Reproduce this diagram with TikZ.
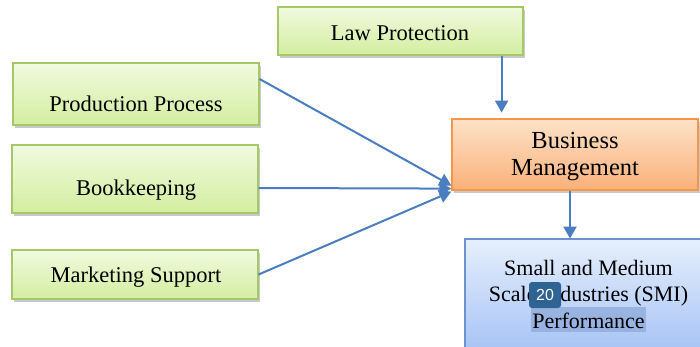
\documentclass[tikz,border=0pt]{standalone}
\usepackage{fontspec}
\setmainfont{Liberation Serif}
\newfontfamily\serifx{Liberation Serif}
\newfontfamily\badgefont{Liberation Sans}
\usetikzlibrary{arrows.meta,shadows}
\definecolor{gborder}{HTML}{A5C86A}
\definecolor{gtop}{HTML}{F1FADF}
\definecolor{gbot}{HTML}{D3EEA0}
\definecolor{oborder}{HTML}{F79646}
\definecolor{otop}{HTML}{FDE2C8}
\definecolor{obot}{HTML}{FAB079}
\definecolor{bborder}{HTML}{6A93CF}
\definecolor{btop}{HTML}{E6EFFD}
\definecolor{bbot}{HTML}{A8C4F5}
\definecolor{arrblue}{HTML}{4A7EC0}
\definecolor{badgeblue}{HTML}{2F6393}
\definecolor{hlblue}{HTML}{8EAADA}
\tikzset{
  boxbase/.style={rectangle, inner sep=0pt, line width=1.2pt,
    drop shadow={shadow xshift=1.5pt, shadow yshift=-3pt, fill=black!35, opacity=0.6}},
  gbox/.style={boxbase, draw=gborder, top color=gtop, bottom color=gbot},
  obox/.style={boxbase, draw=oborder, top color=otop, bottom color=obot},
  bbox/.style={rectangle, inner sep=0pt, line width=1.2pt, draw=bborder, top color=btop, bottom color=bbot},
  gtext/.style={inner sep=0pt, font=\serifx\fontsize{22.5}{26}\selectfont},
  otext/.style={inner sep=0pt, align=center, font=\serifx\fontsize{24.5}{27}\selectfont},
  btext/.style={inner sep=0pt, align=center, font=\serifx\fontsize{22}{26.5}\selectfont},
  arr/.style={draw=arrblue, line width=2pt, -{Triangle[length=12pt,width=13pt]}}
}
\begin{document}
\begin{tikzpicture}[x=1pt,y=-1pt]
\clip (0,0) rectangle (700,347);
\fill[white] (0,0) rectangle (700,347);
% boxes
\node[gbox, minimum width=245pt, minimum height=48pt] (law) at (400.5,31) {};
\node[gbox, minimum width=246pt, minimum height=62pt] (pp) at (136,94) {};
\node[gbox, minimum width=246pt, minimum height=68pt] (bk) at (135,179) {};
\node[gbox, minimum width=246pt, minimum height=49pt] (ms) at (135,274.5) {};
\node[obox, minimum width=246pt, minimum height=71pt] (bm) at (575,154.5) {};
\node[bbox, minimum width=236pt, minimum height=110pt] (smi) at (583,294) {};
% texts
\node[gtext] (lawt) at (400,33) {Law Protection};
\node[gtext] (ppt) at (136,104) {Production Process};
\node[gtext] (bkt) at (136,190) {Bookkeeping};
\node[gtext] (mst) at (136,277) {Marketing Support};
\node[otext] (bmt) at (575,157) {Business\\Management};
\fill[hlblue, opacity=0.75] (531,307) rectangle (646,332);
\node[btext] (smit) at (588.5,294) {Small and Medium\\Scale Industries (SMI)\\Performance};
% connectors
\draw[arr] ([xshift=-22pt]law.south east) -- ++(0,57);
\draw[arr] ([yshift=15pt]pp.east) -- ([yshift=5pt]bm.south west);
\draw[arr] ([yshift=-9pt]bk.east) -- ([yshift=2pt]bm.south west);
\draw[arr] (ms.east) -- ([yshift=-1pt]bm.south west);
\draw[arr] ([xshift=-5pt]bm.south) -- ++(0,48);
% overlay badge
\node[fill=badgeblue, rounded corners=3pt, minimum width=32pt, minimum height=26pt, inner sep=0pt,
      text=white, font=\badgefont\fontsize{16}{16}\selectfont] (badge) at (545,295) {20};
\end{tikzpicture}
\end{document}
